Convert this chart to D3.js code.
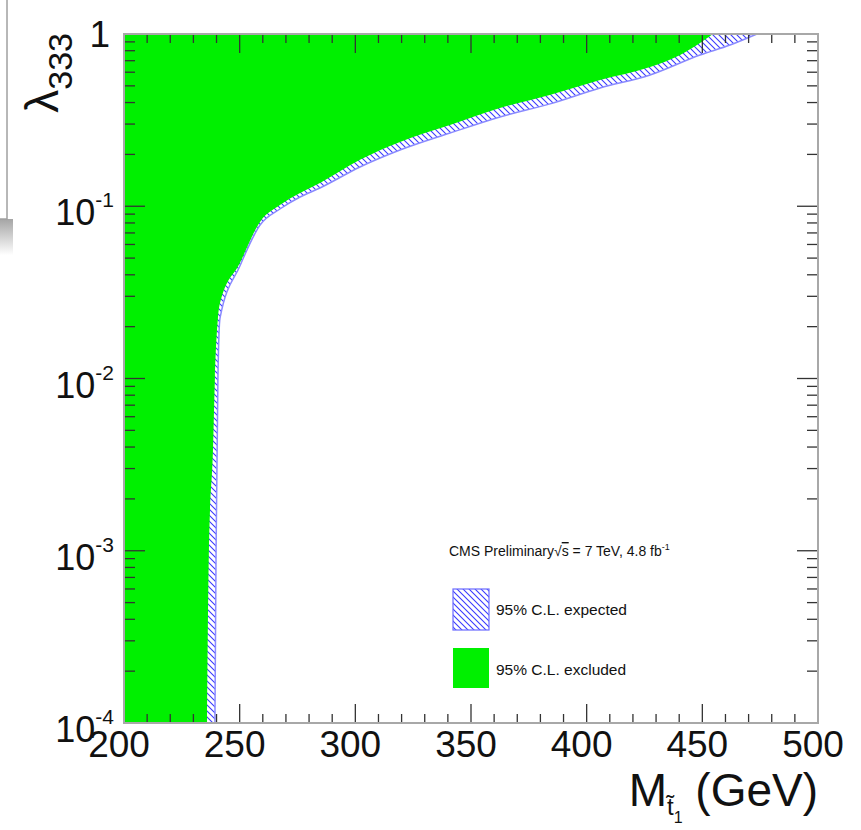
<!DOCTYPE html>
<html>
<head>
<meta charset="utf-8">
<script src="https://cdn.jsdelivr.net/npm/d3@7"></script>
<style>
  body { margin: 0; background: #fff; }
  text { font-family: "Liberation Sans", Arial, sans-serif; fill: #111; }
</style>
</head>
<body>
<div id="chart"></div>
<script>
// observed exclusion edge (green region is left / above it)
var massObs = [235.9, 236.7, 238.5, 239.3, 240.6, 241.5, 250.1, 258.8, 267.4, 276.1, 284.7, 302.0, 319.3, 340.9, 362.5, 384.0, 405.8, 427.4, 440.4, 449.0, 454.6]
var lambdaObs = [1e-4, 1e-3, 0.0040, 0.0100, 0.0224, 0.0274, 0.0469, 0.0811, 0.1016, 0.1194, 0.1365, 0.186, 0.236, 0.296, 0.372, 0.443, 0.541, 0.643, 0.755, 0.887, 1]

// expected limit
var massExp = [239.3, 239.8, 240.6, 241.5, 250.1, 258.8, 267.4, 276.1, 284.7, 302.0, 319.3, 340.9, 362.5, 384.2, 405.8, 427.4, 449.0, 462.0, 473.6]
var lambdaExp = [1e-4, 1e-3, 0.01, 0.0224, 0.0450, 0.0778, 0.0964, 0.1132, 0.1276, 0.169, 0.212, 0.266, 0.330, 0.393, 0.486, 0.578, 0.755, 0.863, 1]

var xTicks = [200, 250, 300, 350, 400, 450, 500]
var yTickExp = [0, -1, -2, -3, -4]

var width = 861, height = 830
var margin = {top: 34, right: 43, bottom: 107, left: 124}
var w = width - margin.left - margin.right
var h = height - margin.top - margin.bottom

var svg = d3.select("#chart").append("svg")
    .attr("width", width)
    .attr("height", height)

// leftover window border in the screenshot (top-left)
var defs = svg.append("defs")
var sh = defs.append("linearGradient").attr("id", "shadow")
    .attr("x1", 0).attr("y1", 0).attr("x2", 0).attr("y2", 1)
sh.append("stop").attr("offset", "0%").attr("stop-color", "#a5a5a5")
sh.append("stop").attr("offset", "100%").attr("stop-color", "#fff")
svg.append("rect").attr("x", 0).attr("y", 219).attr("width", 13).attr("height", 36)
    .attr("fill", "url(#shadow)")
svg.append("rect").attr("x", -5).attr("y", -5).attr("width", 12).attr("height", 224)
    .attr("fill", "#fff").attr("stroke", "#a0a0a0").attr("stroke-width", 1.5)

// hatch pattern for expected band
var pat = defs.append("pattern").attr("id", "hatch")
    .attr("patternUnits", "userSpaceOnUse")
    .attr("width", 6).attr("height", 6)
pat.append("path").attr("d", "M-1,-1 L7,7 M-1,5 L1,7 M5,-1 L7,1")
    .attr("stroke", "#3a3aff").attr("stroke-width", 1.1)

var g = svg.append("g")
    .attr("transform", "translate(" + margin.left + "," + margin.top + ")")

var x = d3.scaleLinear().domain([200, 500]).range([0, w])
var y = d3.scaleLog().domain([1e-4, 1]).range([h, 0])

var line = d3.line()
    .x(function (d) { return x(d[0]) })
    .y(function (d) { return y(d[1]) })
    .curve(d3.curveMonotoneX)

var expPts = massExp.map(function (m, i) { return [m, lambdaExp[i]] })
var obsPts = massObs.map(function (m, i) { return [m, lambdaObs[i]] })

// closed region to the upper-left of a curve
function region(pts) {
    var c = line(pts)
    return "M" + x(200) + "," + y(1e-4) + "L" + c.substring(1) +
        "L" + x(200) + "," + y(1) + "Z"
}

g.append("path").attr("d", region(expPts))
    .attr("fill", "url(#hatch)")
g.append("path").attr("d", line(expPts))
    .attr("fill", "none").attr("stroke", "#8a8aff").attr("stroke-width", 1.5)
g.append("path").attr("d", region(obsPts))
    .attr("fill", "#00f000")

// ticks on all four sides
var tickColor = "#333"
var xMinor = d3.range(200, 501, 10)
xMinor.forEach(function (v) {
    var major = v % 50 === 0
    var len = major ? 19 : 9
    g.append("line").attr("x1", x(v)).attr("x2", x(v)).attr("y1", h).attr("y2", h - len)
        .attr("stroke", tickColor).attr("stroke-width", 1.3)
    g.append("line").attr("x1", x(v)).attr("x2", x(v)).attr("y1", 0).attr("y2", len)
        .attr("stroke", tickColor).attr("stroke-width", 1.3)
})
var yMinor = []
for (var e = -4; e < 0; e++) {
    for (var k = 1; k < 10; k++) yMinor.push(k * Math.pow(10, e))
}
yMinor.push(1)
yMinor.forEach(function (v) {
    var major = Math.abs(Math.log10(v) - Math.round(Math.log10(v))) < 1e-9
    var len = major ? 21 : 11
    g.append("line").attr("x1", 0).attr("x2", len).attr("y1", y(v)).attr("y2", y(v))
        .attr("stroke", tickColor).attr("stroke-width", 1.3)
    g.append("line").attr("x1", w).attr("x2", w - len).attr("y1", y(v)).attr("y2", y(v))
        .attr("stroke", tickColor).attr("stroke-width", 1.3)
})

// frame
g.append("rect").attr("width", w).attr("height", h)
    .attr("fill", "none").attr("stroke", "#a8a8a8").attr("stroke-width", 2)

// x tick labels
g.selectAll(".xl").data(xTicks).enter().append("text")
    .attr("class", "xl")
    .attr("x", function (d) { return x(d) - 5 })
    .attr("y", h + 34)
    .attr("text-anchor", "middle")
    .style("font-size", "37px")
    .text(function (d) { return d })

// y tick labels
yTickExp.forEach(function (p) {
    var yy = y(Math.pow(10, p))
    if (p === 0) {
        g.append("text").attr("x", -14).attr("y", yy + 13)
            .attr("text-anchor", "end").style("font-size", "37px").text("1")
        return
    }
    var t = g.append("text").attr("x", -10).attr("y", yy + 19)
        .attr("text-anchor", "end").style("font-size", "36px")
    t.append("tspan").text("10")
    t.append("tspan").attr("dy", -18).style("font-size", "21px").text(String(p))
})

// axis titles
var xt = svg.append("text").attr("x", 818).attr("y", 806)
    .attr("text-anchor", "end").style("font-size", "46px")
xt.append("tspan").text("M")
xt.append("tspan").attr("dy", 9).style("font-size", "24px").text("t\u0303")
xt.append("tspan").attr("dy", 8).style("font-size", "16px").text("1")
xt.append("tspan").attr("dy", -17).text(" (GeV)")

var yt = svg.append("text")
    .attr("transform", "translate(58,33) rotate(-90)")
    .attr("text-anchor", "end").style("font-size", "46px")
yt.append("tspan").text("\u03bb")
yt.append("tspan").attr("dy", 14).style("font-size", "34px").text("333")

// legend
var lg = svg.append("g")
var cms = lg.append("text").attr("x", 449).attr("y", 556).style("font-size", "14px")
cms.append("tspan").text("CMS Preliminary\u221A")
cms.append("tspan").style("text-decoration", "overline").text("s")
cms.append("tspan").text(" = 7 TeV, 4.8 fb")
cms.append("tspan").attr("dy", -6).style("font-size", "9px").text("-1")
lg.append("rect").attr("x", 453).attr("y", 589).attr("width", 36).attr("height", 41)
    .attr("fill", "url(#hatch)").attr("stroke", "#6a6aff").attr("stroke-width", 1.2)
lg.append("text").attr("x", 496).attr("y", 615).style("font-size", "15.5px").text("95% C.L. expected")
lg.append("rect").attr("x", 453).attr("y", 648).attr("width", 36).attr("height", 40)
    .attr("fill", "#00f000")
lg.append("text").attr("x", 496).attr("y", 675).style("font-size", "15.5px").text("95% C.L. excluded")
</script>
</body>
</html>
